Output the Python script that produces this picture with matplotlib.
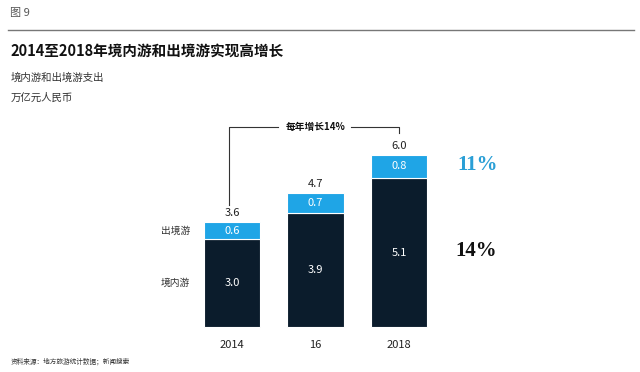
import matplotlib.pyplot as plt

plt.rcParams['font.family'] = ['Noto Sans CJK SC', 'DejaVu Sans']

years = ['2014', '16', '2018']
domestic = [3.0, 3.9, 5.1]
outbound = [0.6, 0.7, 0.8]
totals = ['3.6', '4.7', '6.0']
growth_out = '11%'
growth_dom = '14%'

dark = '#0b1c2c'
light = '#1fa5e6'

fig = plt.figure(figsize=(6.4, 3.72), dpi=100)
ax = fig.add_axes([0, 0, 1, 1])
ax.set_xlim(-2.778, 4.886)
ax.set_ylim(-1.541, 11.199)
ax.axis('off')

x = range(len(years))
w = 0.68
ax.bar(x, domestic, width=w, color=dark, edgecolor='white', linewidth=0.8)
ax.bar(x, outbound, width=w, bottom=domestic, color=light, edgecolor='white', linewidth=0.8)

for i in x:
    ax.text(i, domestic[i] / 2, f'{domestic[i]:.1f}', color='white', ha='center', va='center', fontsize=8)
    ax.text(i, domestic[i] + outbound[i] / 2, f'{outbound[i]:.1f}', color='white', ha='center', va='center', fontsize=8)
    ax.text(i, domestic[i] + outbound[i] + 0.12, totals[i], color='#222222', ha='center', va='bottom', fontsize=8)
    ax.text(i, -0.45, years[i], color='#222222', ha='center', va='top', fontsize=8)

# 左侧系列标签
ax.text(-0.5, domestic[0] + outbound[0] / 2, '出境游', ha='right', va='center', fontsize=7, color='#333333')
ax.text(-0.5, domestic[0] / 2, '境内游', ha='right', va='center', fontsize=7, color='#333333')

# 增长率括号
top = 6.85
ax.plot([-0.04, -0.04, 0.55], [4.18, top, top], color='#333333', lw=0.8)
ax.plot([1.43, 2.0, 2.0], [top, top, 6.64], color='#333333', lw=0.8)
ax.text(1.0, top, '每年增长14%', ha='center', va='center', fontsize=7, fontweight='bold', color='#111111')

# 右侧增长率
ax.text(2.7, domestic[2] + outbound[2] / 2 + 0.05, growth_out, color='#2a9fd6', fontsize=15,
        fontweight='bold', family='Liberation Serif', ha='left', va='center')
ax.text(2.67, 2.6, growth_dom, color='#111111', fontsize=15,
        fontweight='bold', family='Liberation Serif', ha='left', va='center')

# 标题部分
fig.text(0.016, 0.965, '图 9', fontsize=8, color='#555555', va='center')
fig.add_artist(plt.Line2D([0.012, 0.99], [0.92, 0.92], color='#777777', lw=1))
fig.text(0.016, 0.865, '2014至2018年境内游和出境游实现高增长', fontsize=10.5, fontweight='bold',
         color='#111111', va='center')
fig.text(0.016, 0.79, '境内游和出境游支出', fontsize=7.5, color='#333333', va='center')
fig.text(0.016, 0.737, '万亿元人民币', fontsize=7.5, color='#333333', va='center')
fig.text(0.016, 0.027, '资料来源：地方旅游统计数据；新闻搜索', fontsize=4.8, color='#333333', va='center')

fig.savefig('out.png', dpi=100)
